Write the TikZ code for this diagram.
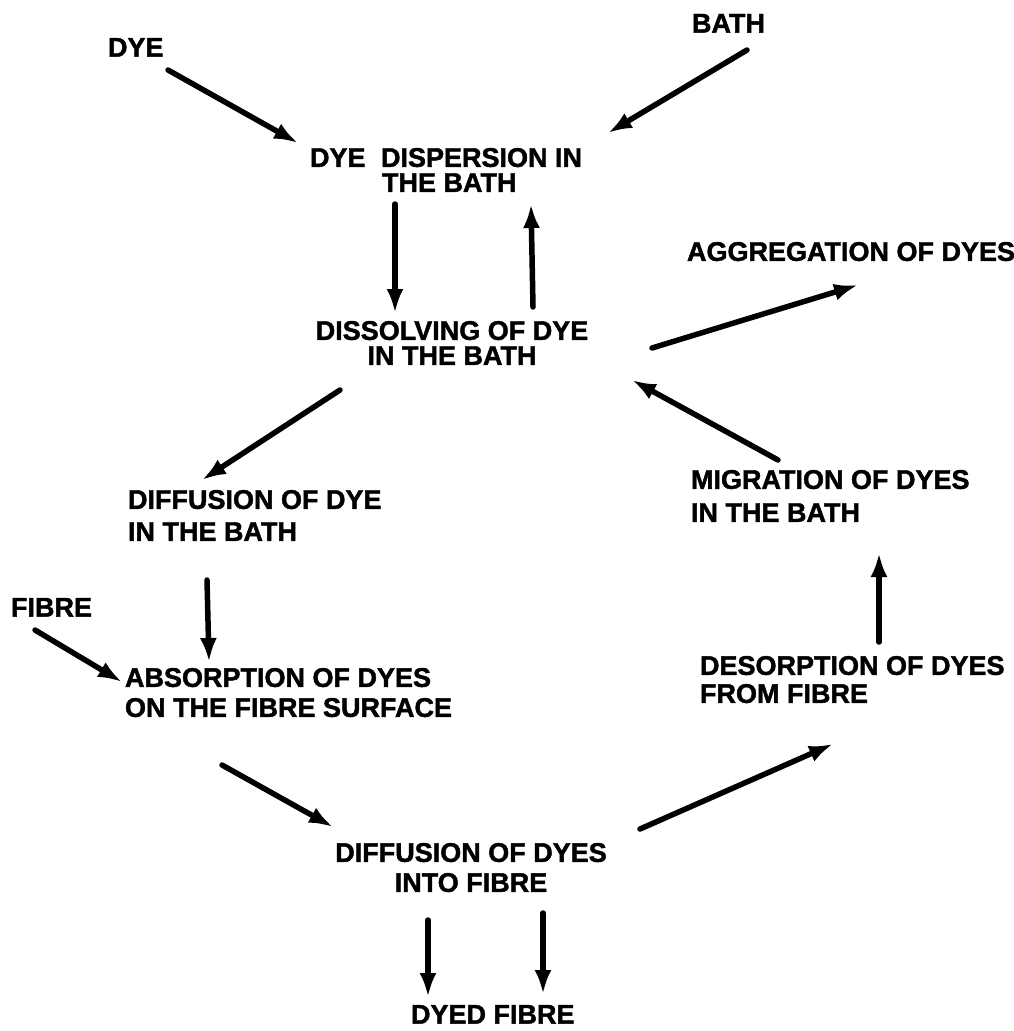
\documentclass[tikz,border=0pt]{standalone}
\usepackage{fontspec}
\setmainfont{Liberation Sans}[BoldFeatures={FakeBold=1.6}]
\usetikzlibrary{arrows.meta}
\tikzset{
  lbl/.style={inner sep=0pt, outer sep=0pt, font=\fontsize{27}{32}\selectfont\bfseries},
  arr/.style={line width=5.5pt, line cap=round, -{Latex[length=24pt,width=17pt]}}
}
\begin{document}
\setlength{\lineskiplimit}{-100pt}%
\begin{tikzpicture}[x=1pt,y=-1pt]
\fill[white] (0,0) rectangle (1014,1031);
\useasboundingbox (0,0) rectangle (1014,1031);
% labels
\node[lbl, anchor=north west] (dye) at (108,38) {DYE};
\node[lbl, anchor=north west] (bath) at (692,14) {BATH};
\node[lbl, anchor=north west, align=left, font=\fontsize{27}{25}\selectfont\bfseries] (disp) at (310,148) {DYE\hspace{8pt} DISPERSION IN\\\hspace*{72pt}THE BATH};
\node[lbl, anchor=north, align=center, font=\fontsize{27}{25}\selectfont\bfseries] (diss) at (452,321) {DISSOLVING OF DYE\\IN THE BATH};
\node[lbl, anchor=north west] (agg) at (687,242) {AGGREGATION OF DYES};
\node[lbl, anchor=north west, align=left] (dif1) at (128,490) {DIFFUSION OF DYE\\IN THE BATH};
\node[lbl, anchor=north west, align=left, font=\fontsize{27}{33}\selectfont\bfseries] (mig) at (691,470) {MIGRATION OF DYES\\IN THE BATH};
\node[lbl, anchor=north west] (fibre) at (11,598) {FIBRE};
\node[lbl, anchor=north west, align=left, font=\fontsize{27}{30}\selectfont\bfseries] (abs) at (125,668) {ABSORPTION OF DYES\\ON THE FIBRE SURFACE};
\node[lbl, anchor=north west, align=left, font=\fontsize{27}{28}\selectfont\bfseries] (des) at (700,656) {DESORPTION OF DYES\\FROM FIBRE};
\node[lbl, anchor=north, align=center, font=\fontsize{27}{30}\selectfont\bfseries] (dif2) at (471,843) {DIFFUSION OF DYES\\INTO FIBRE};
\node[lbl, anchor=north west] (dyed) at (411,1005) {DYED FIBRE};
% connectors
\draw[arr] ([shift={(60,32)}]dye.north west) -- ([shift={(-12,-5)}]disp.north west);
\draw[arr] ([shift={(55,36)}]bath.north west) -- ([shift={(298,-15)}]disp.north west);
\draw[arr] ([shift={(85,56)}]disp.north west) -- ([shift={(-57,-8)}]diss.north);
\draw[arr] ([shift={(81,-14)}]diss.north) -- ([shift={(221,56)}]disp.north west);
\draw[arr] ([shift={(200,27)}]diss.north) -- ([shift={(171,43)}]agg.north west);
\draw[arr] ([shift={(-112,69)}]diss.north) -- ([shift={(74,-10)}]dif1.north west);
\draw[arr] ([shift={(87,-10)}]mig.north west) -- ([shift={(180,59)}]diss.north);
\draw[arr] ([shift={(79,90)}]dif1.north west) -- ([shift={(84,-6)}]abs.north west);
\draw[arr] ([shift={(24,32)}]fibre.north west) -- ([shift={(-3,14)}]abs.north west);
\draw[arr] ([shift={(179,-14)}]des.north west) -- ([shift={(188,83)}]mig.north west);
\draw[arr] ([shift={(97,97)}]abs.north west) -- ([shift={(-138,-16)}]dif2.north);
\draw[arr] ([shift={(169,-14)}]dif2.north) -- ([shift={(133,88)}]des.north west);
\draw[arr] ([shift={(-43,77)}]dif2.north) -- ([shift={(17,-8)}]dyed.north west);
\draw[arr] ([shift={(72,70)}]dif2.north) -- ([shift={(132,-11)}]dyed.north west);
\end{tikzpicture}
\end{document}
